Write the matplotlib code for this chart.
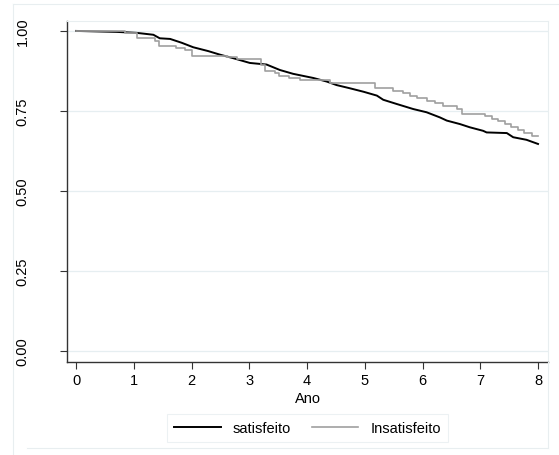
import matplotlib.pyplot as plt
from matplotlib.lines import Line2D

plt.rcParams['font.family'] = ['Liberation Sans', 'DejaVu Sans']

# Kaplan-Meier estimates
t_sat = [0, 0.70, 1.05, 1.34, 1.45, 1.63, 1.83, 2.03, 2.29, 2.49, 2.72, 3.01, 3.30, 3.53,
         3.76, 4.11, 4.34, 4.51, 4.74, 4.98, 5.21, 5.32, 5.55, 5.84, 6.07, 6.30, 6.42,
         6.65, 6.82, 7.05, 7.11, 7.46, 7.57, 7.80, 8.0]
s_sat = [1.0, 0.997, 0.994, 0.988, 0.977, 0.975, 0.963, 0.949, 0.937, 0.926, 0.915, 0.900,
         0.895, 0.878, 0.866, 0.853, 0.842, 0.831, 0.821, 0.810, 0.798, 0.785, 0.772, 0.756,
         0.746, 0.730, 0.720, 0.709, 0.699, 0.688, 0.683, 0.681, 0.668, 0.660, 0.647]

t_ins = [0, 0.85, 1.05, 1.37, 1.43, 1.74, 1.89, 2.00, 2.62, 2.78, 3.21, 3.28, 3.45, 3.51,
         3.68, 3.88, 4.40, 5.18, 5.49, 5.66, 5.78, 5.90, 6.07, 6.22, 6.36, 6.59, 6.68,
         7.08, 7.20, 7.31, 7.43, 7.54, 7.66, 7.75, 7.89, 8.0]
s_ins = [1.0, 0.994, 0.978, 0.97, 0.954, 0.947, 0.940, 0.923, 0.918, 0.912, 0.894, 0.876,
         0.868, 0.860, 0.852, 0.847, 0.8375, 0.822, 0.8135, 0.805, 0.798, 0.790, 0.782,
         0.774, 0.765, 0.756, 0.740, 0.733, 0.725, 0.718, 0.710, 0.700, 0.690, 0.680,
         0.673, 0.673]

yticks = [0.0, 0.25, 0.5, 0.75, 1.0]
xticks = [0, 1, 2, 3, 4, 5, 6, 7, 8]

fig = plt.figure(figsize=(5.59, 4.56), dpi=100)
fig.patch.set_facecolor('white')

# faint outer frame (Stata graph region)
frame = '#e8eef0'
fig.add_artist(Line2D([13/559, 13/559], [0, 1 - 5/456], color=frame, lw=0.8))
fig.add_artist(Line2D([13/559, 1], [1 - 5/456, 1 - 5/456], color=frame, lw=0.8))
fig.add_artist(Line2D([27/559, 548/559], [1 - 449/456, 1 - 449/456], color=frame, lw=0.8))
fig.add_artist(Line2D([548/559, 548/559], [1 - 449/456, 1 - 363/456], color=frame, lw=0.8))

ax = fig.add_axes([67/559, 1 - 363/456, (548 - 67)/559, (363 - 22)/456])

for y in yticks:
    ax.axhline(y, color='#e6eef1', lw=0.9, zorder=0)

# the satisfied group has many small steps, so it reads as a near-continuous line
ax.plot(t_sat, s_sat, color='black', lw=1.4, label='satisfeito')
ax.step(t_ins, s_ins, where='post', color='#a0a0a0', lw=1.2, label='Insatisfeito')

ax.set_xlim(-0.156, 8.173)
ax.set_ylim(-0.034, 1.031)
ax.set_xticks(xticks)
ax.set_yticks(yticks)
ax.set_yticklabels(['0.00', '0.25', '0.50', '0.75', '1.00'], rotation=90, va='center')
ax.tick_params(labelsize=10.5, length=5, width=0.8, color='#333333')
ax.tick_params(axis='y', pad=22)
ax.tick_params(axis='x', pad=3)
ax.set_xlabel('Ano', fontsize=10.5, labelpad=3)

for side in ['left', 'bottom']:
    ax.spines[side].set_color('#333333')
    ax.spines[side].set_linewidth(1.0)
for side in ['top', 'right']:
    ax.spines[side].set_color(frame)
    ax.spines[side].set_linewidth(0.8)

leg = fig.legend(loc='center', bbox_to_anchor=(307.5/559, 1 - 429/456), ncol=2,
                 fontsize=10.5, frameon=True, fancybox=False, handlelength=3.2,
                 columnspacing=1.4, handletextpad=0.85, borderpad=0.5)
leg.get_frame().set_edgecolor(frame)
leg.get_frame().set_linewidth(0.8)

fig.savefig('out.png', dpi=100, facecolor='white')
